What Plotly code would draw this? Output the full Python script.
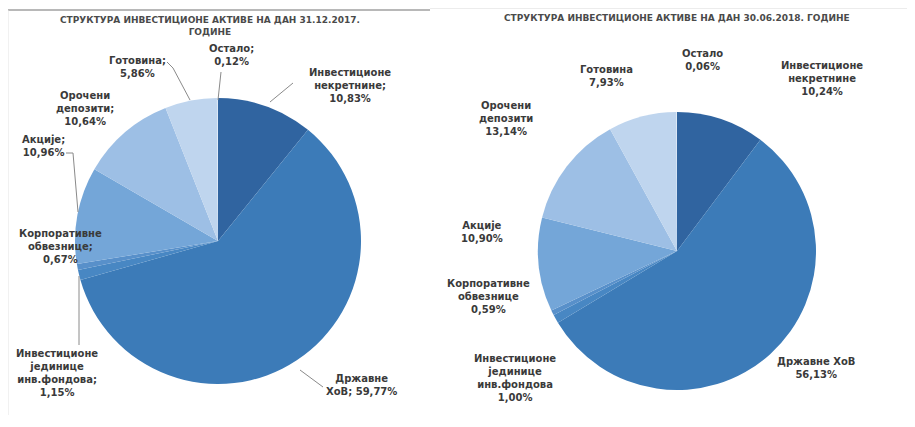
import plotly.graph_objects as go

W, H = 915, 427
OFF = 8  # page body margin of the html page

categories = ["Инвестиционе некретнине", "Државне ХоВ", "Инвестиционе јединице инв.фондова",
              "Корпоративне обвезнице", "Акције", "Орочени депозити", "Готовина", "Остало"]
values_2017 = [10.83, 59.77, 1.15, 0.67, 10.96, 10.64, 5.86, 0.12]
values_2018 = [10.24, 56.13, 1.00, 0.59, 10.90, 13.14, 7.93, 0.06]
labels_2017 = ["Инвестиционе<br>некретнине;<br>10,83%", "Државне<br>ХоВ; 59,77%",
               "Инвестиционе<br>јединице<br>инв.фондова;<br>1,15%", "Корпоративне<br>обвезнице;<br>0,67%",
               "Акције;<br>10,96%", "Орочени<br>депозити;<br>10,64%", "Готовина;<br>5,86%", "Остало;<br>0,12%"]
labels_2018 = ["Инвестиционе<br>некретнине<br>10,24%", "Државне ХоВ<br>56,13%",
               "Инвестиционе<br>јединице<br>инв.фондова<br>1,00%", "Корпоративне<br>обвезнице<br>0,59%",
               "Акције<br>10,90%", "Орочени<br>депозити<br>13,14%", "Готовина<br>7,93%", "Остало<br>0,06%"]
title_2017 = "СТРУКТУРА ИНВЕСТИЦИОНЕ АКТИВЕ НА ДАН 31.12.2017.<br>ГОДИНЕ"
title_2018 = "СТРУКТУРА ИНВЕСТИЦИОНЕ АКТИВЕ НА ДАН 30.06.2018. ГОДИНЕ"

colors = ["#3064A0", "#3C7BB8", "#4887C3", "#5890CA", "#74A6D8", "#9DBFE5", "#BFD5EE", "#DAE7F5"]


def px(x):
    return (x - OFF) / W


def py(y):
    return 1 - (y - OFF) / H


def domain(cx, cy, r):
    return dict(x=[px(cx - r), px(cx + r)], y=[py(cy + r), py(cy - r)])


fig = go.Figure()
for vals, dom in ((values_2017, domain(218, 241, 143)), (values_2018, domain(677, 251, 139))):
    fig.add_trace(go.Pie(
        labels=categories, values=vals, sort=False, direction="clockwise", rotation=0,
        marker=dict(colors=colors, line=dict(width=0)), textinfo="none", hoverinfo="label+percent",
        domain=dom, showlegend=False,
    ))

font = dict(family="DejaVu Sans, sans-serif", size=10, color="#3a3a3a")
tfont = dict(family="DejaVu Sans, sans-serif", size=9, color="#4a4a4a")

# label positions (pixel centres)
pos_2017 = [(350, 86), (361, 385), (57, 373), (60, 247), (43, 146), (85, 108), (137, 67), (231, 55)]
pos_2018 = [(822, 79), (816, 368), (515, 378), (488, 296), (482, 232), (506, 118), (606, 76), (702, 60)]

annotations = []
for text, (x, y) in list(zip(labels_2017, pos_2017)) + list(zip(labels_2018, pos_2018)):
    annotations.append(dict(x=px(x), y=py(y), xref="paper", yref="paper", text="<b>" + text + "</b>",
                            showarrow=False, font=font, xanchor="center", yanchor="middle", align="center"))
annotations.append(dict(x=px(210), y=py(26), xref="paper", yref="paper", text="<b>" + title_2017 + "</b>",
                        showarrow=False, font=tfont, xanchor="center", yanchor="middle", align="center"))
annotations.append(dict(x=px(677), y=py(18), xref="paper", yref="paper", text="<b>" + title_2018 + "</b>",
                        showarrow=False, font=tfont, xanchor="center", yanchor="middle", align="center"))

# leader lines (left chart), pixel coordinates
leaders = [
    [(167, 62), (173, 68), (190, 100)],   # Готовина
    [(221, 72), (218, 100)],              # Остало
    [(293, 83), (270, 102)],              # Некретнине
    [(66, 153), (73, 153), (78, 212)],    # Акције
    [(79, 345), (79, 276)],               # Јединице
    [(323, 387), (300, 370)],             # Државне
]
shapes = []
# scan border / shading
shapes.append(dict(type="rect", xref="paper", yref="paper", x0=px(430), y0=py(0), x1=px(920), y1=py(9),
                   fillcolor="#ececec", line=dict(width=0), layer="below"))
for pts in leaders:
    for (x0, y0), (x1, y1) in zip(pts[:-1], pts[1:]):
        shapes.append(dict(type="line", xref="paper", yref="paper", x0=px(x0), y0=py(y0), x1=px(x1), y1=py(y1),
                           line=dict(color="#8a8a8a", width=1)))
shapes.append(dict(type="line", xref="paper", yref="paper", x0=px(5), y0=py(10), x1=px(430), y1=py(10),
                   line=dict(color="#b8b8b8", width=2)))
shapes.append(dict(type="line", xref="paper", yref="paper", x0=px(8), y0=py(10), x1=px(8), y1=py(415),
                   line=dict(color="#e4e4e4", width=1)))

fig.update_layout(width=W, height=H, margin=dict(l=0, r=0, t=0, b=0), paper_bgcolor="white",
                  plot_bgcolor="white", annotations=annotations, shapes=shapes)
fig.write_html("out.html")
